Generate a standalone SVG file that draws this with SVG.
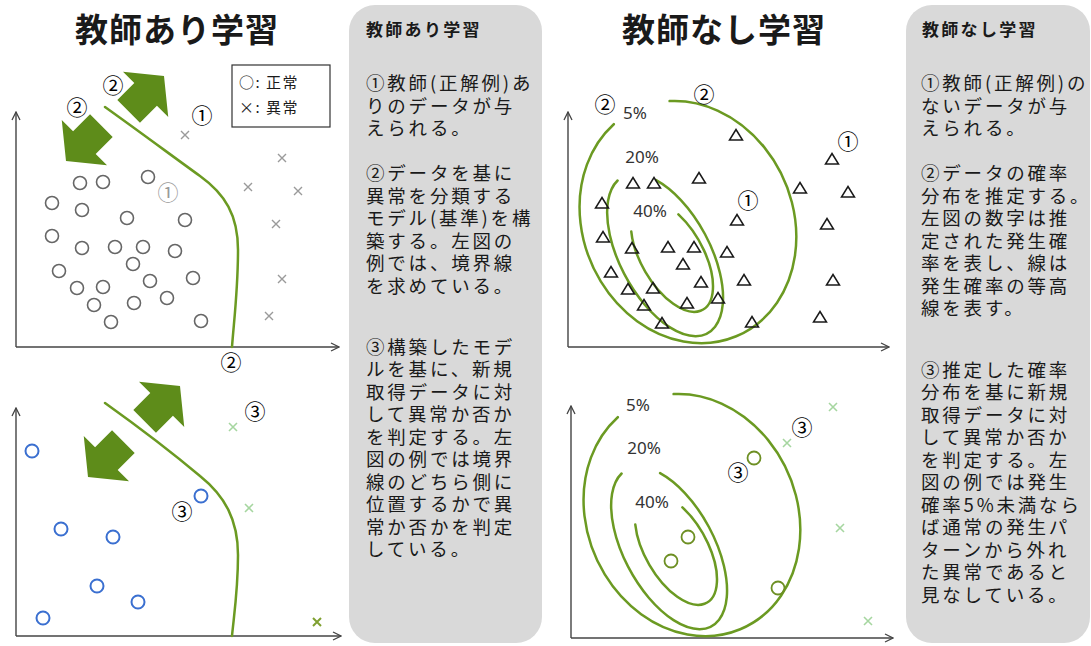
<svg xmlns="http://www.w3.org/2000/svg" xmlns:xlink="http://www.w3.org/1999/xlink" width="1091" height="646" viewBox="0 0 1091 646">
<style>
.title{font-family:"Noto Sans CJK JP","Noto Sans",sans-serif;font-size:33px;font-weight:bold;fill:#1a1a1a;text-anchor:middle;letter-spacing:1px}
.hdr{font-family:"Noto Sans CJK JP",sans-serif;font-size:17px;font-weight:bold;fill:#1a1a1a;letter-spacing:2.3px}
.body{font-family:"Noto Sans CJK JP",sans-serif;font-size:18.5px;fill:#1a1a1a;letter-spacing:2.8px}
.num{font-family:"Noto Sans CJK JP",sans-serif;font-size:21px;fill:#000;text-anchor:middle}
.numg{font-family:"Noto Sans CJK JP",sans-serif;font-size:21px;fill:#9a9a9a;text-anchor:middle}
.pct{font-family:"Noto Sans","DejaVu Sans",sans-serif;font-size:17px;fill:#333;text-anchor:middle}
.leg{font-family:"Noto Sans CJK JP",sans-serif;font-size:15px;fill:#1a1a1a;letter-spacing:1.5px}
.panel{fill:#d9d9d9}
.bound{fill:none;stroke:#6b9a22;stroke-width:2.5;stroke-linecap:round}
.contour{fill:none;stroke:#6b9a22;stroke-width:2.5;stroke-linecap:round}
.garrow{fill:#5e8c1a}
.axis{fill:none;stroke:#444;stroke-width:1.4}
.ocirc{fill:none;stroke:#666;stroke-width:1.6}
.bcirc{fill:none;stroke:#3a6fd0;stroke-width:2}
.gcirc{fill:none;stroke:#6d8f23;stroke-width:1.8}
.xg{stroke:#9a9a9a;stroke-width:1.4}
.xl{stroke:#a6d6a0;stroke-width:1.6}
.xd{stroke:#7fa030;stroke-width:2}
.tri{fill:none;stroke:#1a1a1a;stroke-width:1.5;stroke-linejoin:miter}
</style>
<defs>
<marker id="axhead" viewBox="0 0 10 10" refX="9" refY="5" markerWidth="10" markerHeight="10" markerUnits="userSpaceOnUse" orient="auto">
<path d="M1,1 L9,5 L1,9" fill="none" stroke="#444" stroke-width="1.3"/>
</marker>
<path id="blk" d="M0,0 L-26,-32 L-26,-16 L-50,-16 L-50,16 L-26,16 L-26,32 Z"/>
<path id="tri" d="M0,-5.5 L6.5,5 L-6.5,5 Z"/>
<path id="xm" d="M-4,-4 L4,4 M-4,4 L4,-4"/>
</defs>
<rect width="1091" height="646" fill="#ffffff"/>

<g id="connectors">
<path class="axis" d="M16,347 L16,112" marker-end="url(#axhead)"/>
<path class="axis" d="M16,347 L339,347" marker-end="url(#axhead)"/>
<path class="axis" d="M16,636 L16,408" marker-end="url(#axhead)"/>
<path class="axis" d="M16,636 L341,636" marker-end="url(#axhead)"/>
<path class="axis" d="M568,347 L568,112" marker-end="url(#axhead)"/>
<path class="axis" d="M568,347 L889,347" marker-end="url(#axhead)"/>
<path class="axis" d="M571,638 L571,406" marker-end="url(#axhead)"/>
<path class="axis" d="M571,638 L893,638" marker-end="url(#axhead)"/>
</g>

<g id="title-supervised"><text class="title" x="177" y="42">教師あり学習</text></g>
<g id="title-unsupervised"><text class="title" x="724" y="42">教師なし学習</text></g>

<g id="plot-supervised-train">
<path class="bound" d="M105,107 C140,132 175,158 200,176 C225,194 238,215 238,250 C238,290 234,320 232,347"/>
<use href="#blk" class="garrow" transform="translate(164,76) rotate(-45)"/>
<use href="#blk" class="garrow" transform="translate(66,161) rotate(135)"/>
<g id="legend">
<rect x="232" y="65" width="98" height="62" fill="#fff" stroke="#333" stroke-width="1.2"/>
<text class="leg" x="239" y="88">○: 正常</text>
<text class="leg" x="239" y="113">×: 異常</text>
</g>
<g>
<circle class="ocirc" cx="80" cy="183" r="6.5"/>
<circle class="ocirc" cx="103" cy="182" r="6.5"/>
<circle class="ocirc" cx="148" cy="177" r="6.5"/>
<circle class="ocirc" cx="52" cy="203" r="6.5"/>
<circle class="ocirc" cx="82" cy="210" r="6.5"/>
<circle class="ocirc" cx="127" cy="218" r="6.5"/>
<circle class="ocirc" cx="185" cy="220" r="6.5"/>
<circle class="ocirc" cx="52" cy="236" r="6.5"/>
<circle class="ocirc" cx="82" cy="248" r="6.5"/>
<circle class="ocirc" cx="115" cy="247" r="6.5"/>
<circle class="ocirc" cx="143" cy="247" r="6.5"/>
<circle class="ocirc" cx="175" cy="251" r="6.5"/>
<circle class="ocirc" cx="133" cy="264" r="6.5"/>
<circle class="ocirc" cx="59" cy="271" r="6.5"/>
<circle class="ocirc" cx="77" cy="288" r="6.5"/>
<circle class="ocirc" cx="103" cy="287" r="6.5"/>
<circle class="ocirc" cx="150" cy="281" r="6.5"/>
<circle class="ocirc" cx="193" cy="278" r="6.5"/>
<circle class="ocirc" cx="94" cy="305" r="6.5"/>
<circle class="ocirc" cx="134" cy="303" r="6.5"/>
<circle class="ocirc" cx="167" cy="298" r="6.5"/>
<circle class="ocirc" cx="111" cy="322" r="6.5"/>
<circle class="ocirc" cx="201" cy="321" r="6.5"/>
</g>
<g class="xg">
<use href="#xm" x="185" y="135"/>
<use href="#xm" x="282" y="158"/>
<use href="#xm" x="248" y="187"/>
<use href="#xm" x="298" y="191"/>
<use href="#xm" x="276" y="224"/>
<use href="#xm" x="282" y="279"/>
<use href="#xm" x="269" y="316"/>
</g>
<text class="num" x="113" y="93">②</text>
<text class="num" x="77" y="115">②</text>
<text class="num" x="202" y="123">①</text>
<text class="numg" x="168" y="200">①</text>
<text class="num" x="231" y="370">②</text>
</g>

<g id="plot-supervised-test">
<path class="bound" d="M105,403 C140,428 175,455 200,476 C225,496 238,520 238,555 C238,590 234,615 232,636"/>
<use href="#blk" class="garrow" transform="translate(180,386) rotate(-45)"/>
<use href="#blk" class="garrow" transform="translate(88,477) rotate(135)"/>
<circle class="bcirc" cx="32" cy="451" r="6.5"/>
<circle class="bcirc" cx="61" cy="529" r="6.5"/>
<circle class="bcirc" cx="113" cy="537" r="6.5"/>
<circle class="bcirc" cx="97" cy="586" r="6.5"/>
<circle class="bcirc" cx="138" cy="602" r="6.5"/>
<circle class="bcirc" cx="43" cy="618" r="6.5"/>
<circle class="bcirc" cx="201" cy="496" r="6.5"/>
<use href="#xm" class="xl" x="233" y="427"/>
<use href="#xm" class="xl" x="249" y="508"/>
<use href="#xm" class="xd" x="317" y="622"/>
<text class="num" x="255" y="419">③</text>
<text class="num" x="182" y="519">③</text>
</g>

<g id="panel-supervised">
<rect class="panel" x="349" y="5" width="193" height="638" rx="26"/>
<text class="hdr" x="366" y="36">教師あり学習</text>
<text class="body">
<tspan x="366" y="90">①教師(正解例)あ</tspan>
<tspan x="366" y="113">りのデータが与</tspan>
<tspan x="366" y="135">えられる。</tspan>
<tspan x="366" y="180">②データを基に</tspan>
<tspan x="366" y="203">異常を分類する</tspan>
<tspan x="366" y="225">モデル(基準)を構</tspan>
<tspan x="366" y="248">築する。左図の</tspan>
<tspan x="366" y="270">例では、境界線</tspan>
<tspan x="366" y="293">を求めている。</tspan>
<tspan x="366" y="354">③構築したモデ</tspan>
<tspan x="366" y="376">ルを基に、新規</tspan>
<tspan x="366" y="399">取得データに対</tspan>
<tspan x="366" y="421">して異常か否か</tspan>
<tspan x="366" y="444">を判定する。左</tspan>
<tspan x="366" y="466">図の例では境界</tspan>
<tspan x="366" y="489">線のどちら側に</tspan>
<tspan x="366" y="511">位置するかで異</tspan>
<tspan x="366" y="534">常か否かを判定</tspan>
<tspan x="366" y="556">している。</tspan>
</text>
</g>

<g id="plot-unsupervised-train">
<path class="contour" d="M613.8,124.2 A124,105 66 1 0 669.6,101.1"/>
<path class="contour" d="M617.6,180.5 A89,45 61.6 1 0 656.1,180.1"/>
<path class="contour" d="M631.3,231.6 A62,31 60 1 0 678.4,214.4"/>
<text class="pct" x="635" y="119">5%</text>
<text class="pct" x="642" y="163">20%</text>
<text class="pct" x="650" y="217">40%</text>
<g class="tri">
<use href="#tri" x="736" y="135"/>
<use href="#tri" x="832" y="159"/>
<use href="#tri" x="800" y="188"/>
<use href="#tri" x="848" y="192"/>
<use href="#tri" x="699" y="178"/>
<use href="#tri" x="633" y="183"/>
<use href="#tri" x="654" y="183"/>
<use href="#tri" x="602" y="203"/>
<use href="#tri" x="737" y="220"/>
<use href="#tri" x="827" y="224"/>
<use href="#tri" x="603" y="237"/>
<use href="#tri" x="632" y="248"/>
<use href="#tri" x="668" y="247"/>
<use href="#tri" x="694" y="247"/>
<use href="#tri" x="727" y="252"/>
<use href="#tri" x="683" y="264"/>
<use href="#tri" x="611" y="272"/>
<use href="#tri" x="701" y="282"/>
<use href="#tri" x="744" y="280"/>
<use href="#tri" x="833" y="280"/>
<use href="#tri" x="628" y="289"/>
<use href="#tri" x="653" y="288"/>
<use href="#tri" x="644" y="305"/>
<use href="#tri" x="687" y="303"/>
<use href="#tri" x="718" y="298"/>
<use href="#tri" x="662" y="323"/>
<use href="#tri" x="752" y="322"/>
<use href="#tri" x="820" y="317"/>
</g>
<text class="num" x="605" y="112">②</text>
<text class="num" x="704" y="102">②</text>
<text class="num" x="848" y="149">①</text>
<text class="num" x="748" y="208">①</text>
</g>

<g id="plot-unsupervised-test">
<g transform="translate(4,293)">
<path class="contour" d="M613.8,124.2 A124,105 66 1 0 669.6,101.1"/>
<path class="contour" d="M617.6,180.5 A89,45 61.6 1 0 656.1,180.1"/>
<path class="contour" d="M631.3,231.6 A62,31 60 1 0 678.4,214.4"/>
</g>
<text class="pct" x="638" y="411">5%</text>
<text class="pct" x="644" y="454">20%</text>
<text class="pct" x="652" y="508">40%</text>
<circle class="gcirc" cx="754" cy="458" r="6.5"/>
<circle class="gcirc" cx="688" cy="537" r="6.5"/>
<circle class="gcirc" cx="671" cy="561" r="6.5"/>
<circle class="gcirc" cx="778" cy="588" r="6.5"/>
<use href="#xm" class="xl" x="833" y="407"/>
<use href="#xm" class="xl" x="787" y="443"/>
<use href="#xm" class="xl" x="840" y="528"/>
<use href="#xm" class="xl" x="868" y="621"/>
<text class="num" x="802" y="435">③</text>
<text class="num" x="738" y="480">③</text>
</g>

<g id="panel-unsupervised">
<rect class="panel" x="906" y="5" width="184" height="638" rx="26"/>
<text class="hdr" x="922" y="36">教師なし学習</text>
<text class="body">
<tspan x="921" y="90">①教師(正解例)の</tspan>
<tspan x="921" y="113">ないデータが与</tspan>
<tspan x="921" y="135">えられる。</tspan>
<tspan x="921" y="180">②データの確率</tspan>
<tspan x="921" y="203">分布を推定する。</tspan>
<tspan x="921" y="225">左図の数字は推</tspan>
<tspan x="921" y="248">定された発生確</tspan>
<tspan x="921" y="270">率を表し、線は</tspan>
<tspan x="921" y="293">発生確率の等高</tspan>
<tspan x="921" y="315">線を表す。</tspan>
<tspan x="921" y="377">③推定した確率</tspan>
<tspan x="921" y="399">分布を基に新規</tspan>
<tspan x="921" y="422">取得データに対</tspan>
<tspan x="921" y="444">して異常か否か</tspan>
<tspan x="921" y="467">を判定する。左</tspan>
<tspan x="921" y="489">図の例では発生</tspan>
<tspan x="921" y="512">確率5%未満なら</tspan>
<tspan x="921" y="534">ば通常の発生パ</tspan>
<tspan x="921" y="557">ターンから外れ</tspan>
<tspan x="921" y="579">た異常であると</tspan>
<tspan x="921" y="602">見なしている。</tspan>
</text>
</g>
</svg>
